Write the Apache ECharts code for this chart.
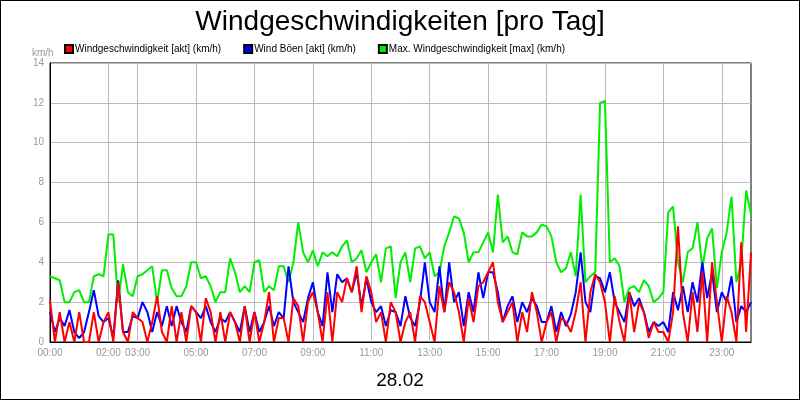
<!DOCTYPE html>
<html>
<head>
<meta charset="utf-8">
<script src="https://cdn.jsdelivr.net/npm/echarts@6/dist/echarts.min.js"></script>
<style>
html,body{margin:0;padding:0;background:#fff;}
#chart{width:798px;height:398px;border:1px solid #000;}
</style>
</head>
<body>
<div id="chart"></div>
<script>
// 10-minute samples, 00:00 .. 24:00
var tickHours = [0, 2, 3, 5, 7, 9, 11, 13, 15, 17, 19, 21, 23];

var akt = [
	2.1,0,1.5,0,1.0,0,  1.5,0,0,1.5,0,1.0,  1.5,0,3.0,0.5,0,1.5,  1.2,1.0,0,1.0,2.3,0.5,
	0,1.8,0,1.5,0,1.8,  1.5,0,2.2,1.5,0,1.5,  0,1.5,1.0,0,1.8,0,  1.5,0,1.0,2.5,0,1.2,
	1.2,0,2.2,1.8,0,2.0,  2.5,1.5,0,2.5,0,2.5,  2.0,3.2,2.5,3.8,1.5,3.3,  2.5,1.0,1.5,0,2.0,1.5,
	0,1.0,1.5,0,2.3,2.0,  1.0,0,2.8,1.5,3.0,2.5,  1.5,0,2.2,1.0,2.8,3.0,  3.5,4.0,2.0,1.0,1.5,2.0,
	0,1.5,0.5,2.5,1.5,0,  1.0,1.5,0,1.2,1.0,0.5,  1.5,3.0,0,2.5,3.4,3.0,  2.0,0,2.3,1.0,0,2.5,
	0.5,2.0,1.5,0.2,1.0,0.5,  0.5,0,1.5,5.8,1.5,0,  2.5,0.5,3.5,0,4.0,2.0,  0,2.3,1.5,0,5.0,0.5,  4.5
];
var boeen = [
	1.5,0.5,1.2,0.8,1.6,0.5,  0.2,0.5,1.5,2.6,1.3,1.0,  1.2,0.2,3.1,0.5,0.5,1.3,  1.2,2.0,1.5,0.5,1.5,0.8,
	1.8,0.8,1.8,1.0,0.5,1.8,  1.5,1.2,1.8,1.0,0.5,1.2,  1.0,1.5,1.0,0.5,1.8,0.5,  1.5,0.5,1.0,1.8,0.8,1.5,
	1.2,3.8,2.0,1.5,1.0,2.2,  3.0,1.5,0.8,3.5,1.5,3.4,  3.0,3.2,2.5,3.5,1.8,3.2,  2.0,1.5,1.8,0.8,1.6,1.5,
	0.8,2.3,1.2,0.8,2.0,4.0,  2.0,1.5,3.8,1.5,4.0,2.0,  2.5,0.8,2.5,1.5,3.5,2.2,  3.5,3.5,2.5,1.0,1.8,2.3,
	1.0,2.0,1.5,2.2,1.8,1.0,  1.0,1.8,0.5,1.5,0.8,1.4,  2.5,4.5,2.0,1.5,3.3,3.2,  2.5,3.5,2.0,1.5,1.0,2.5,
	1.8,2.2,1.5,0.5,1.0,0.8,  1.0,0.5,2.5,1.6,2.8,1.5,  3.0,2.0,4.0,2.2,3.5,1.5,  2.5,2.0,3.3,1.0,1.8,1.5,  2.0
];
var maxWind = [
	3.3,3.2,3.1,2.0,2.0,2.5,  2.6,2.0,2.0,3.3,3.4,3.3,  5.4,5.4,2.0,3.9,2.5,2.3,  3.3,3.4,3.6,3.8,2.0,3.6,
	3.6,2.7,2.3,2.3,2.8,4.0,  4.0,3.2,3.3,2.8,2.0,2.5,  2.5,4.2,3.5,2.5,2.8,2.5,  4.0,4.1,2.5,2.8,2.6,3.8,
	3.8,3.0,4.0,6.0,4.5,4.0,  4.6,3.8,4.5,4.3,4.5,4.3,  4.8,5.1,4.0,4.2,4.6,3.5,  4.0,4.4,3.0,4.7,4.8,2.2,
	4.0,4.5,3.0,4.7,4.8,4.2,  4.5,3.3,3.5,4.8,5.5,6.3,  6.2,5.5,4.0,4.5,4.5,5.0,  5.5,4.5,7.4,5.0,5.3,4.5,
	4.4,5.5,5.3,5.3,5.5,5.9,  5.8,5.3,4.0,3.5,3.7,4.5,  3.3,7.4,3.0,3.3,3.5,12.0,  12.1,4.0,4.2,3.8,2.0,2.7,
	2.8,2.5,3.1,2.8,2.0,2.2,  2.5,6.5,6.8,4.0,3.0,4.5,  4.7,6.0,3.7,5.2,5.7,2.7,  4.5,5.5,7.3,3.0,4.0,7.6,  6.4
];

var times = [];
for (var i = 0; i < akt.length; i++) {
	var h = Math.floor(i / 6) % 24, m = (i % 6) * 10;
	times.push((h < 10 ? '0' : '') + h + ':' + (m < 10 ? '0' : '') + m);
}

var chart = echarts.init(document.getElementById('chart'));
var lineStyle = function (c) {
	return { type: 'line', showSymbol: false, symbol: 'none', lineStyle: { width: 2, color: c }, itemStyle: { color: c, borderColor: '#000', borderWidth: 1 } };
};
var s1 = lineStyle('#ff0000'); s1.name = 'Windgeschwindigkeit [akt] (km/h)'; s1.data = akt; s1.z = 3;
var s2 = lineStyle('#0000ff'); s2.name = 'Wind Böen [akt] (km/h)'; s2.data = boeen; s2.z = 2;
var s3 = lineStyle('#00ee00'); s3.name = 'Max. Windgeschwindigkeit [max] (km/h)'; s3.data = maxWind; s3.z = 1;

var showTick = function (idx) { return idx % 6 === 0 && tickHours.indexOf(idx / 6) >= 0; };

chart.setOption({
	animation: false,
	backgroundColor: '#fff',
	title: [
		{ text: 'Windgeschwindigkeiten [pro Tag]', left: 'center', top: 2,
		  textStyle: { fontFamily: 'Liberation Sans', fontSize: 28, fontWeight: 'normal', color: '#000' } },
		{ text: '28.02', left: 'center', top: 365,
		  textStyle: { fontFamily: 'Liberation Sans', fontSize: 19, fontWeight: 'normal', color: '#000' } },
		{ text: 'km/h', left: 26, top: 42,
		  textStyle: { fontFamily: 'Liberation Sans', fontSize: 10, fontWeight: 'normal', color: '#999' } }
	],
	legend: {
		left: 58, top: 38, itemGap: 22, itemWidth: 8, itemHeight: 8, icon: 'rect',
		textStyle: { fontFamily: 'Liberation Sans', fontSize: 10, color: '#000', padding: [0, 0, 0, -3] },
		data: [s1.name, s2.name, s3.name]
	},
	grid: { left: 49, right: 48, top: 62, bottom: 57, show: true, borderColor: '#000', borderWidth: 1 },
	xAxis: {
		type: 'category', boundaryGap: false, data: times,
		axisLine: { lineStyle: { color: '#000' } },
		axisTick: { show: false },
		axisLabel: { color: '#999', fontFamily: 'Liberation Sans', fontSize: 10, margin: 6, interval: showTick },
		splitLine: { show: true, interval: showTick, lineStyle: { color: '#bbb' } }
	},
	yAxis: {
		type: 'value', min: 0, max: 14, interval: 2,
		axisLine: { show: true, lineStyle: { color: '#000' } },
		axisTick: { show: false },
		axisLabel: { color: '#999', fontFamily: 'Liberation Sans', fontSize: 10, margin: 6 },
		splitLine: { lineStyle: { color: '#bbb' } }
	},
	series: [s1, s2, s3]
});
</script>
</body>
</html>
